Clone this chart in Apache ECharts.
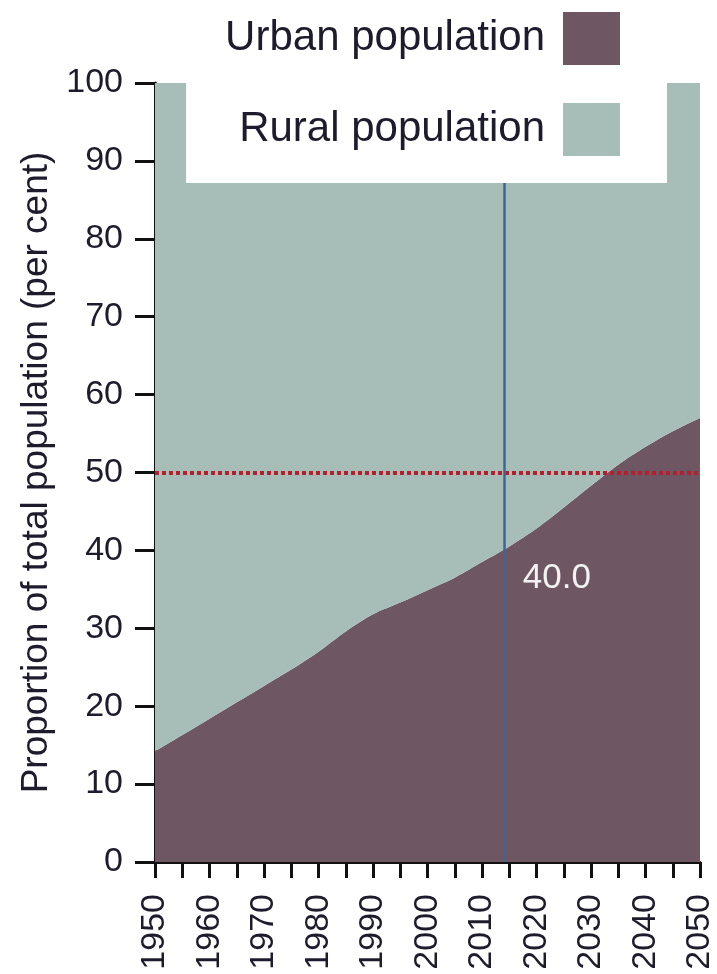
<!DOCTYPE html>
<html>
<head>
<meta charset="utf-8">
<script src="https://cdn.jsdelivr.net/npm/echarts@6/dist/echarts.min.js"></script>
<style>
  html, body { margin: 0; padding: 0; background: #fff; }
  #chart { width: 717px; height: 974px; }
</style>
</head>
<body>
<div id="chart"></div>
<script>
// years every 5, urban / rural share of total population (per cent)
const years = [1950, 1955, 1960, 1965, 1970, 1975, 1980, 1985, 1990, 1995, 2000,
  2005, 2010, 2015, 2020, 2025, 2030, 2035, 2040, 2045, 2050]
const urban = [14.2, 16.3, 18.4, 20.5, 22.6, 24.7, 27.0, 29.6, 31.8, 33.3, 34.9,
  36.5, 38.5, 40.5, 42.8, 45.5, 48.3, 51.0, 53.3, 55.3, 57.0]
const rural = [85.8, 83.7, 81.6, 79.5, 77.4, 75.3, 73.0, 70.4, 68.2, 66.7, 65.1,
  63.5, 61.5, 59.5, 57.2, 54.5, 51.7, 49.0, 46.7, 44.7, 43.0]
const yTicks = [0, 10, 20, 30, 40, 50, 60, 70, 80, 90, 100]
const halfLine = 50
const markYear = 2014
const markValue = 40.0

const FONT = '"Liberation Sans", Arial, sans-serif'
const INK = '#1e1b2c'

const chart = echarts.init(document.getElementById('chart'))

// value first, year second: so the stack is done on the value column, not on x
function rows(values) {
  return years.map((y, i) => [values[i], y])
}

chart.setOption({
  animation: false,
  grid: {
    left: 155,
    right: 17,
    top: 83,
    bottom: 112
  },
  legend: {
    orient: 'vertical',
    right: 50,
    top: 0,
    z: 10,
    align: 'right',
    icon: 'rect',
    selectedMode: false,
    backgroundColor: '#fff',
    padding: [12, 47, 27, 39],
    itemWidth: 57,
    itemHeight: 53,
    itemGap: 38,
    itemStyle: { borderWidth: 0 },
    textStyle: {
      fontFamily: FONT,
      fontSize: 42,
      color: INK,
      padding: [0, 13, 0, 0]
    },
    data: ['Urban population', 'Rural population']
  },
  xAxis: {
    type: 'value',
    min: years[0],
    max: years[years.length - 1],
    interval: 5,
    splitLine: { show: false },
    axisLine: { lineStyle: { color: '#111', width: 3 } },
    axisTick: { length: 16, lineStyle: { color: '#111', width: 3 } },
    axisLabel: {
      rotate: 90,
      margin: 32,
      fontFamily: FONT,
      fontSize: 34,
      color: INK,
      showMinLabel: true,
      showMaxLabel: true,
      formatter: v => (v % 10 === 0 ? String(v) : '')
    }
  },
  yAxis: {
    type: 'value',
    min: yTicks[0],
    max: yTicks[yTicks.length - 1],
    interval: 10,
    name: 'Proportion of total population (per cent)',
    nameLocation: 'middle',
    nameGap: 98,
    nameTextStyle: { fontFamily: FONT, fontSize: 37, color: INK },
    splitLine: { show: false },
    axisLine: { show: true, lineStyle: { color: '#111', width: 3 } },
    axisTick: { show: true, length: 20, lineStyle: { color: '#111', width: 3 } },
    axisLabel: {
      margin: 32,
      fontFamily: FONT,
      fontSize: 34,
      color: INK
    }
  },
  series: [
    {
      name: 'Urban population',
      type: 'line',
      stack: 'total',
      smooth: 0.3,
      symbol: 'none',
      color: '#6e5763',
      lineStyle: { width: 0 },
      itemStyle: { color: '#6e5763' },
      areaStyle: { color: '#6e5763', opacity: 1 },
      encode: { x: 1, y: 0 },
      data: rows(urban),
      markPoint: {
        symbol: 'circle',
        symbolSize: 0,
        label: {
          show: true,
          position: 'right',
          distance: 19,
          offset: [0, 28],
          fontFamily: FONT,
          fontSize: 35,
          color: '#f2f2f2',
          formatter: p => p.value.toFixed(1)
        },
        data: [{ coord: [markYear, markValue], value: markValue }]
      }
    },
    {
      name: 'Rural population',
      type: 'line',
      stack: 'total',
      smooth: 0.3,
      symbol: 'none',
      color: '#a7bdb7',
      lineStyle: { width: 0 },
      itemStyle: { color: '#a7bdb7' },
      areaStyle: { color: '#a7bdb7', opacity: 1 },
      encode: { x: 1, y: 0 },
      data: rows(rural),
      markLine: {
        silent: true,
        symbol: 'none',
        label: { show: false },
        data: [
          {
            yAxis: halfLine,
            lineStyle: { color: '#b5202e', width: 4, type: [4, 3], cap: 'butt' }
          },
          {
            xAxis: markYear,
            lineStyle: { color: '#3a6894', width: 2.5, type: 'solid' }
          }
        ]
      }
    }
  ]
})
</script>
</body>
</html>
